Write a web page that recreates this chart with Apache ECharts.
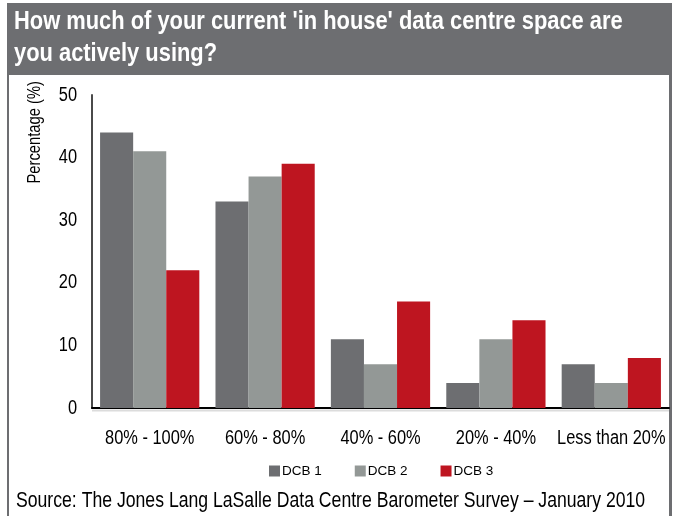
<!DOCTYPE html>
<html>
<head>
<meta charset="utf-8">
<script src="https://cdn.jsdelivr.net/npm/echarts@6/dist/echarts.min.js"></script>
<style>html,body{margin:0;padding:0;background:#fff;}#c{width:676px;height:516px;}</style>
</head>
<body>
<div id="c"></div>
<script>
var categories = ['80% - 100%', '60% - 80%', '40% - 60%', '20% - 40%', 'Less than 20%'];
var dcb1 = [44, 33, 11, 4, 7];
var dcb2 = [41, 37, 7, 11, 4];
var dcb3 = [22, 39, 17, 14, 8];
var seriesNames = ['DCB 1', 'DCB 2', 'DCB 3'];
var yTicks = [0, 10, 20, 30, 40, 50];
var yAxisName = 'Percentage (%)';
var titleLines = ["How much of your current 'in house' data centre space are", 'you actively using?'];
var sourceText = 'Source: The Jones Lang LaSalle Data Centre Barometer Survey \u2013 January 2010';

var FONT = '"Liberation Sans Narrow", "Liberation Sans", Arial, sans-serif';
var NARROW = 0.82;
var chart = echarts.init(document.getElementById('c'), null, {renderer: 'canvas'});
var baseGraphics = [
  {type: 'rect', shape: {x: 7, y: 3, width: 665, height: 72}, style: {fill: '#6d6e71'}},
  {type: 'rect', shape: {x: 7, y: 75, width: 2, height: 441}, style: {fill: '#6d6e71'}},
  {type: 'rect', shape: {x: 669, y: 75, width: 3, height: 441}, style: {fill: '#6d6e71'}},
  {type: 'text', x: 14, y: 22, scaleX: NARROW, style: {text: titleLines[0], fill: '#fff', font: 'bold 26.7px ' + FONT, textVerticalAlign: 'middle'}},
  {type: 'text', x: 14, y: 54, scaleX: NARROW, style: {text: titleLines[1], fill: '#fff', font: 'bold 26.7px ' + FONT, textVerticalAlign: 'middle'}},
  {type: 'text', x: 35, y: 81, rotation: Math.PI / 2, scaleX: NARROW, style: {text: yAxisName, fill: '#000', font: '18px ' + FONT, textAlign: 'right', textVerticalAlign: 'middle'}},
  {type: 'text', x: 16, y: 501, scaleX: NARROW, style: {text: sourceText, fill: '#000', font: '21.5px ' + FONT, textVerticalAlign: 'middle'}}
];
chart.setOption({
  animation: false,
  backgroundColor: '#ffffff',
  color: ['#6d6e71', '#939896', '#be1520'],
  grid: {left: 92, right: 7, top: 95, bottom: 108},
  legend: {
    data: seriesNames,
    left: 264,
    top: 459,
    itemWidth: 11,
    itemHeight: 11,
    itemGap: 33,
    icon: 'rect',
    textStyle: {fontFamily: FONT, fontSize: 13.5, color: '#000', padding: [0, 0, 0, -3]}
  },
  xAxis: {
    type: 'category',
    data: categories,
    axisLine: {lineStyle: {color: '#000', width: 2}},
    axisTick: {show: false},
    axisLabel: {show: false}
  },
  yAxis: {
    type: 'value',
    min: 0, max: 50, interval: 10,
    axisLine: {show: true, lineStyle: {color: '#4a4a4a', width: 2}},
    axisTick: {show: false},
    splitLine: {show: false},
    axisLabel: {show: false}
  },
  series: [
    {name: seriesNames[0], type: 'bar', data: dcb1, barGap: 0, barCategoryGap: '14%'},
    {name: seriesNames[1], type: 'bar', data: dcb2, barGap: 0, barCategoryGap: '14%'},
    {name: seriesNames[2], type: 'bar', data: dcb3, barGap: 0, barCategoryGap: '14%'}
  ],
  graphic: baseGraphics
});

// axis labels placed through the chart's own scales (narrow text via horizontal scaling)
var labelGraphics = [];
var zeroY = chart.convertToPixel({yAxisIndex: 0}, 0);
categories.forEach(function (c) {
  var px = chart.convertToPixel({xAxisIndex: 0}, c);
  labelGraphics.push({type: 'text', x: px, y: zeroY + 30, scaleX: NARROW,
    style: {text: c, fill: '#000', font: '20px ' + FONT, textAlign: 'center', textVerticalAlign: 'middle'}});
});
yTicks.forEach(function (v) {
  var py = chart.convertToPixel({yAxisIndex: 0}, v);
  labelGraphics.push({type: 'text', x: 77, y: py, scaleX: NARROW,
    style: {text: String(v), fill: '#000', font: '20px ' + FONT, textAlign: 'right', textVerticalAlign: 'middle'}});
});
labelGraphics.push({type: 'rect', shape: {x: 92, y: zeroY + 1.5, width: 577, height: 2}, style: {fill: '#dcdcdc'}, z: -1});
chart.setOption({graphic: baseGraphics.concat(labelGraphics)});
</script>
</body>
</html>
